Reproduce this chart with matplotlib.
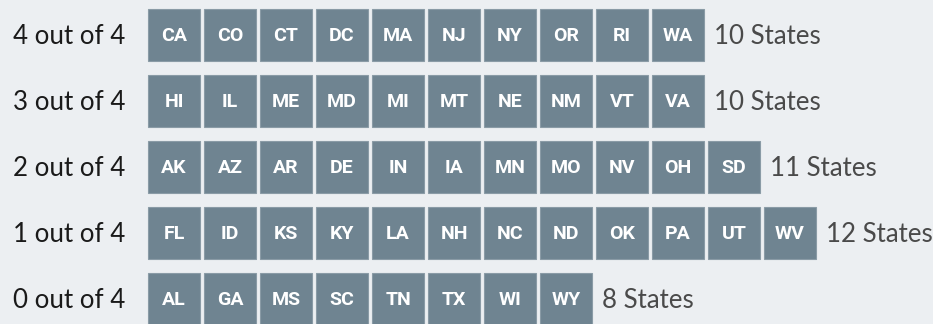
import matplotlib.pyplot as plt
from matplotlib.patches import Rectangle

row_labels = ["4 out of 4", "3 out of 4", "2 out of 4", "1 out of 4", "0 out of 4"]
states_4 = ["CA", "CO", "CT", "DC", "MA", "NJ", "NY", "OR", "RI", "WA"]
states_3 = ["HI", "IL", "ME", "MD", "MI", "MT", "NE", "NM", "VT", "VA"]
states_2 = ["AK", "AZ", "AR", "DE", "IN", "IA", "MN", "MO", "NV", "OH", "SD"]
states_1 = ["FL", "ID", "KS", "KY", "LA", "NH", "NC", "ND", "OK", "PA", "UT", "WV"]
states_0 = ["AL", "GA", "MS", "SC", "TN", "TX", "WI", "WY"]
rows = [states_4, states_3, states_2, states_1, states_0]

bg = '#eceff2'
box = '#6f8491'

fig = plt.figure(figsize=(9.33, 3.24), dpi=100, facecolor=bg)
ax = fig.add_axes([0, 0, 1, 1])
ax.set_xlim(0, 933)
ax.set_ylim(324, 0)
ax.axis('off')
ax.set_facecolor(bg)

x0, w, pitch = 148, 52, 56
y0, rpitch = 9, 66

for r, (label, states) in enumerate(zip(row_labels, rows)):
    top = y0 + r * rpitch
    yc = top + w / 2
    ax.text(125, yc + 1, label, ha='right', va='center', fontsize=18.6,
            family='Lato', color='#1a1a1a')
    for i, s in enumerate(states):
        x = x0 + i * pitch
        ax.add_patch(Rectangle((x, top), w, w, facecolor=box,
                               edgecolor='#8a9ba6', linewidth=0.8))
        ax.text(x + w / 2, yc + 1, s, ha='center', va='center', fontsize=14,
                family='Roboto', fontweight='bold', color='white')
    ax.text(x0 + len(states) * pitch + 6, yc + 1, f"{len(states)} States",
            ha='left', va='center', fontsize=18.6, family='Lato', color='#4a4a4a')

plt.savefig('out.png', dpi=100, facecolor=bg)
plt.close()
